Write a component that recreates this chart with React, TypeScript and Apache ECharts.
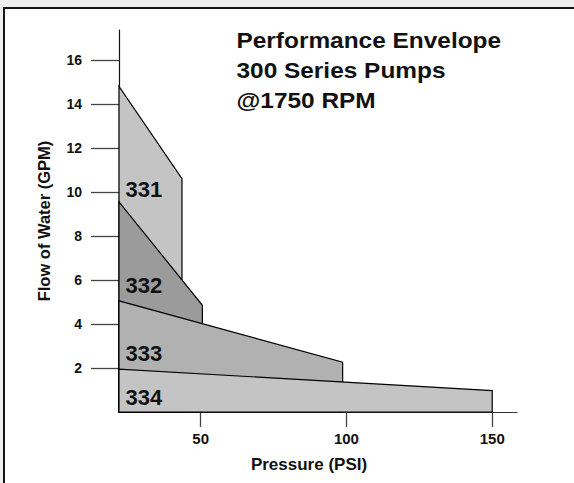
import React, { useEffect, useRef } from "react";
import * as echarts from "echarts";

// ---- data ----
const models = ["331", "332", "333", "334"];
const MIN_PSI = 22; // pressure at the flow axis
const leftFlow = [14.8, 9.55, 5.05, 1.95]; // GPM at minimum pressure
const maxPsi = [43.6, 50.6, 98.7, 150]; // max pressure of each pump
const rightFlow = [10.6, 4.85, 2.26, 0.97]; // GPM at max pressure
const labelFlow = [10.1, 5.76, 2.65, 0.67]; // where each model name sits
const xTicks = [50, 100, 150];
const yTicks = [2, 4, 6, 8, 10, 12, 14, 16];
const titleLines = ["Performance Envelope", "300 Series Pumps", "@1750 RPM"];

const fills = ["#c4c4c4", "#9b9b9b", "#b1b1b1", "#c4c4c4"];
const FONT = '"Liberation Sans", Arial, Helvetica, sans-serif';

export default function App() {
  const ref = useRef<HTMLDivElement>(null);

  useEffect(() => {
    if (!ref.current) return;
    const chart = echarts.init(ref.current, undefined, { renderer: "svg" });
    const option: any = {
      animation: false,
      backgroundColor: "transparent",
      textStyle: { fontFamily: FONT },
      grid: { left: 119, right: 57, top: 30, bottom: 71, containLabel: false },
      xAxis: {
        type: "value",
        min: MIN_PSI,
        max: 158.5,
        name: "Pressure (PSI)",
        nameLocation: "middle",
        nameGap: 44,
        nameTextStyle: {
          fontSize: 17,
          fontWeight: "bold",
          color: "#111",
          fontFamily: FONT,
          padding: [0, 18, 0, 0],
        },
        axisLine: { show: true, lineStyle: { color: "#333", width: 1.2 } },
        axisTick: {
          show: true,
          customValues: xTicks,
          length: 15,
          lineStyle: { color: "#444", width: 1.3 },
        },
        axisLabel: {
          customValues: xTicks,
          margin: 19,
          fontSize: 15,
          fontWeight: "bold",
          color: "#111",
          fontFamily: FONT,
        },
        splitLine: { show: false },
      },
      yAxis: {
        type: "value",
        min: 0,
        max: 17.36,
        name: "Flow of Water (GPM)",
        nameLocation: "middle",
        nameRotate: 90,
        nameGap: 67,
        nameTextStyle: {
          fontSize: 16.5,
          fontWeight: "bold",
          color: "#111",
          fontFamily: FONT,
        },
        axisLine: { show: true, lineStyle: { color: "#111", width: 1.2 } },
        axisTick: {
          show: true,
          customValues: yTicks,
          length: 28,
          lineStyle: { color: "#444", width: 1.3 },
        },
        axisLabel: {
          customValues: yTicks,
          margin: 37,
          fontSize: 14,
          fontWeight: "bold",
          color: "#111",
          fontFamily: FONT,
        },
        splitLine: { show: false },
      },
      graphic: [
        {
          type: "text",
          x: 236.5,
          y: 25,
          scaleX: 1.11,
          style: {
            text: titleLines.join("\n"),
            fontSize: 22,
            fontWeight: "bold",
            fontFamily: FONT,
            lineHeight: 30,
            fill: "#111",
            align: "left",
            verticalAlign: "top",
          },
        },
      ],
      series: [
        {
          type: "custom",
          clip: false,
          data: models.map((m, i) => [maxPsi[i], rightFlow[i], leftFlow[i], labelFlow[i]]),
          encode: { x: 0, y: 1 },
          renderItem: (params: any, api: any) => {
            const i = params.dataIndex;
            const p0 = api.coord([MIN_PSI, 0]);
            const p1 = api.coord([MIN_PSI, api.value(2)]);
            const p2 = api.coord([api.value(0), api.value(1)]);
            const p3 = api.coord([api.value(0), 0]);
            const lp = api.coord([MIN_PSI, api.value(3)]);
            return {
              type: "group",
              children: [
                {
                  type: "polygon",
                  shape: { points: [p0, p1, p2, p3] },
                  style: { fill: fills[i], stroke: "#000", lineWidth: 1.2 },
                },
                {
                  type: "text",
                  x: lp[0] + 6.5,
                  y: lp[1],
                  style: {
                    text: models[i],
                    fontSize: 22,
                    fontWeight: "bold",
                    fontFamily: FONT,
                    fill: "#111",
                    align: "left",
                    verticalAlign: "middle",
                  },
                },
              ],
            };
          },
        },
      ],
    };
    chart.setOption(option);
    return () => chart.dispose();
  }, []);

  return (
    <div
      style={{
        position: "fixed",
        left: 0,
        top: 0,
        width: 574,
        height: 483,
        overflow: "hidden",
        background: "#eeeeee",
      }}
    >
      <div
        style={{
          position: "absolute",
          left: 3,
          top: 7,
          width: 700,
          height: 600,
          background: "#ffffff",
          border: "2px solid #151515",
          boxSizing: "border-box",
        }}
      />
      <div
        ref={ref}
        style={{ position: "absolute", left: 0, top: 0, width: 574, height: 483 }}
      />
    </div>
  );
}
